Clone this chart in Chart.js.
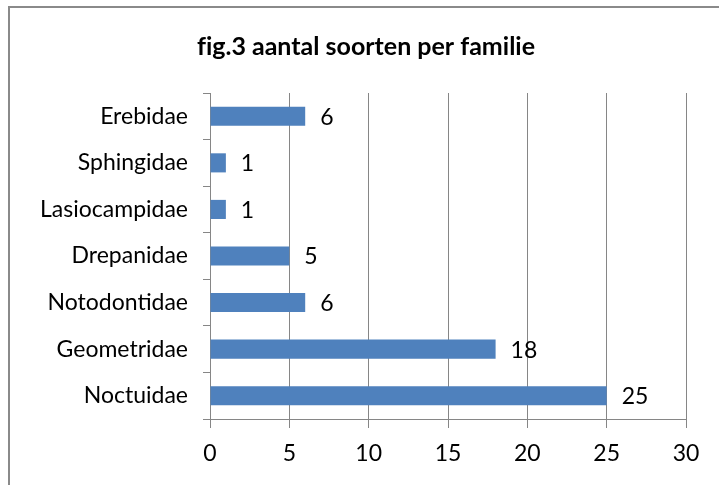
<!DOCTYPE html>
<html><head><meta charset="utf-8">
<script src="https://cdn.jsdelivr.net/npm/chart.js@4/dist/chart.umd.min.js"></script>
<style>
html,body{margin:0;padding:0;background:#fff;}
#wrap{position:relative;width:719px;height:485px;overflow:hidden;}
#frame{position:absolute;left:8px;top:6px;width:800px;height:600px;border-left:2px solid #8a8a8a;border-top:2px solid #8a8a8a;}
canvas{position:absolute;left:0;top:0;}
</style></head>
<body><div id="wrap"><div id="frame"></div><canvas id="c" width="719" height="485"></canvas></div>
<script>
const title = "fig.3 aantal soorten per familie";
const categories = ["Erebidae","Sphingidae","Lasiocampidae","Drepanidae","Notodontidae","Geometridae","Noctuidae"];
const values = [6,1,1,5,6,18,25];
const xTicks = [0,5,10,15,20,25,30];

const FONT = "Lato, 'Open Sans', sans-serif";
const gray = "#868686";

const labelPlugin = {
  id:"labels",
  afterDatasetsDraw(chart){
    const ctx = chart.ctx;
    const meta = chart.getDatasetMeta(0);
    ctx.save();
    ctx.font = "23px " + FONT;
    ctx.fillStyle = "#000";
    ctx.textAlign = "left";
    ctx.textBaseline = "middle";
    meta.data.forEach((bar,i)=>{
      ctx.fillText(String(values[i]), bar.x + 15, bar.y + 1);
    });
    ctx.restore();
  },
  afterDraw(chart){
    const ctx = chart.ctx;
    ctx.save();
    ctx.font = "bold 25px " + FONT;
    ctx.fillStyle = "#000";
    ctx.textAlign = "center";
    ctx.textBaseline = "middle";
    ctx.fillText(title.replace(/fi/g, "f\u200Ci"), 366, 47);
    ctx.restore();
  }
};

new Chart(document.getElementById("c"), {
  type:"bar",
  data:{labels:categories, datasets:[{data:values, backgroundColor:"#4F81BD", borderWidth:0, barPercentage:0.41, categoryPercentage:1}]},
  options:{
    indexAxis:"y",
    responsive:false,
    animation:false,
    events:[],
    layout:{padding:{left:0,right:33,top:93,bottom:0}},
    plugins:{legend:{display:false}, tooltip:{enabled:false}, title:{display:false}},
    scales:{
      x:{
        min:0,max:30,
        afterBuildTicks(s){ s.ticks = xTicks.map(v=>({value:v})); },
        afterFit(s){ s.height = 66; },
        grid:{color:gray, lineWidth:1, tickLength:9, drawTicks:true},
        border:{color:gray, width:1},
        ticks:{color:"#000", font:{family:FONT,size:23}, padding:12, maxRotation:0}
      },
      y:{
        afterFit(s){ s.width = 210; },
        grid:{color:gray, drawOnChartArea:false, tickLength:7, offset:true},
        border:{color:gray, width:1},
        ticks:{color:"#000", font:{family:FONT,size:23}, padding:15}
      }
    }
  },
  plugins:[labelPlugin]
});
</script></body></html>
